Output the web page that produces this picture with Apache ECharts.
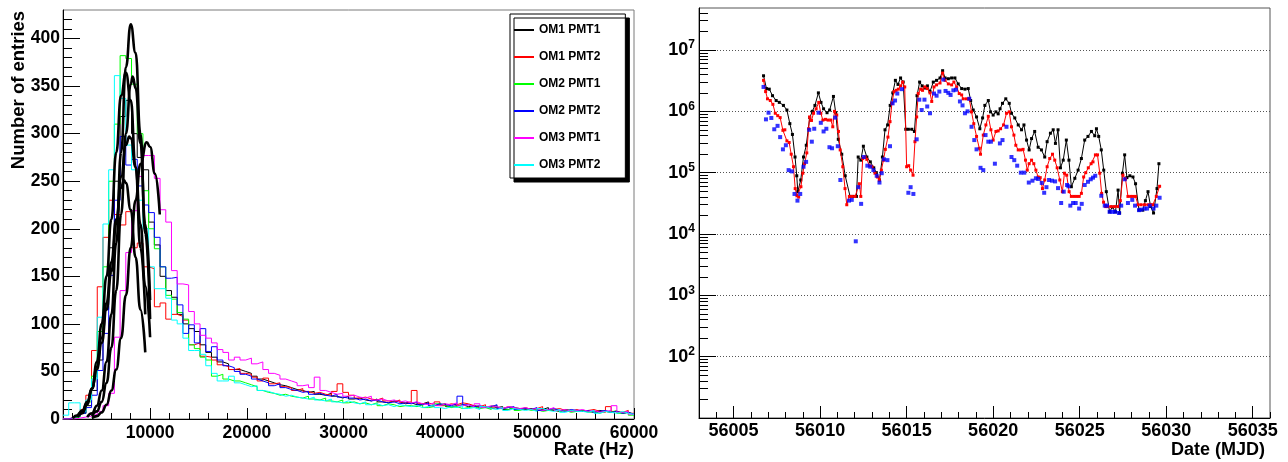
<!DOCTYPE html>
<html><head><meta charset="utf-8">
<script src="https://cdn.jsdelivr.net/npm/echarts@6/dist/echarts.min.js"></script>
<style>html,body{margin:0;padding:0;background:#fff}#c{width:1288px;height:462px}</style>
</head><body><div id="c"></div><script>
// ---------- left panel: rate histograms ----------
const binStart = 1000, binWidth = 590;
const histNames = ['OM1 PMT1','OM1 PMT2','OM2 PMT1','OM2 PMT2','OM3 PMT1','OM3 PMT2'];
const histColors = ['#000000','#ff0000','#00ff00','#0000ff','#ff00ff','#00ffff'];
const om1pmt1 = [0,1,3,6,14,30,62,115,180,250,318,335,300,275,262,207,183,150,135,128,110,100,95,92,78,70,65,60,58,52,52,50,48,45,42,40,38,36,35,33,31,30,28,29,26,25,27,24,22,24,21,22,20,19,21,18,17,19,18,16,17,15,16,18,14,15,16,13,14,15,13,14,12,13,11,12,13,10,12,11,10,11,9,10,12,9,8,10,9,8,9,8,7,9,8,7,8,6,7,5];
const om1pmt2 = [0,2,4,10,25,72,139,191,230,215,204,218,180,185,160,158,118,122,105,110,108,104,78,80,66,65,62,57,55,52,53,48,47,44,40,43,37,38,34,33,30,32,29,27,28,26,25,29,37,28,25,22,23,21,20,22,19,18,20,17,18,30,16,17,15,18,14,16,15,17,16,14,13,15,12,14,11,13,12,10,12,10,11,13,9,10,11,9,8,10,8,9,10,8,7,13,8,7,9,6];
const om2pmt1 = [0,1,2,6,18,45,92,160,250,310,382,379,352,300,240,200,179,160,130,126,112,105,78,74,65,62,45,47,42,40,40,38,36,34,30,28,27,25,26,24,23,22,24,21,20,22,19,18,20,17,18,16,17,15,17,14,16,15,13,14,14,13,15,12,13,16,14,12,13,11,12,13,11,12,10,14,11,10,12,9,11,9,10,8,9,10,8,9,7,8,9,7,8,6,8,7,9,6,7,4];
const om2pmt2 = [0,2,3,6,12,25,51,90,151,230,297,267,273,245,225,217,191,160,148,149,120,90,99,80,95,71,76,62,56,54,50,47,45,42,40,38,35,37,33,31,30,28,29,26,27,25,24,26,23,22,22,20,21,19,20,18,17,18,16,17,16,18,15,17,14,16,15,14,16,24,15,13,14,12,13,15,11,12,13,10,11,10,12,9,10,11,9,8,10,9,8,9,7,8,9,7,8,6,7,5];
const om3pmt1 = [0,0,1,2,3,5,8,14,27,86,135,175,219,255,277,277,253,220,207,156,142,141,113,100,88,85,80,73,70,62,65,62,64,58,60,52,48,46,42,40,38,35,36,33,44,30,28,26,27,24,25,23,22,24,20,21,19,20,18,19,17,18,16,15,17,14,16,15,17,14,15,13,16,12,14,13,11,13,12,11,12,10,11,9,10,12,9,10,8,9,10,8,9,7,8,9,14,7,8,5];
const om3pmt2 = [4,17,17,8,20,42,107,205,262,361,337,288,262,230,200,160,137,137,127,104,100,85,72,72,68,56,48,40,40,45,38,36,34,35,30,29,27,26,24,25,23,22,21,23,20,19,21,18,17,19,17,16,18,15,16,14,15,13,15,14,13,14,12,13,15,12,11,13,12,14,11,12,10,13,11,10,12,9,11,10,9,10,8,11,9,8,10,7,9,8,8,7,9,6,8,7,6,8,6,5];
const histCounts = [om1pmt1, om1pmt2, om2pmt1, om2pmt2, om3pmt1, om3pmt2];

// fitted peak curves (black), [rate, entries]
const fitA = [[3500,2],[4000,6],[4500,14],[5000,30],[5500,60],[6000,110],[6500,185],[7000,280],[7500,370],[8000,415],[8500,385],[9000,300],[9500,195],[10000,105]];
const fitB = [[2500,2],[3000,6],[3500,15],[4000,32],[4500,60],[5000,100],[5500,150],[6000,210],[6500,280],[7000,340],[7500,364],[8000,335],[8500,265],[9000,180],[9500,110]];
const fitC = [[4000,3],[4500,8],[5000,18],[5500,38],[6000,75],[6500,135],[7000,215],[7500,300],[8000,352],[8200,360],[8500,348],[9000,290],[9500,205],[10000,125]];
const fitD = [[2000,1],[2500,4],[3000,9],[3500,18],[4000,32],[4500,52],[5000,80],[5500,115],[6000,155],[6500,205],[7000,255],[7500,288],[7850,297],[8000,295],[8500,265],[9000,205],[9500,140],[10000,86]];
const fitE = [[4000,1],[4500,3],[5000,7],[5500,15],[6000,30],[6500,52],[7000,85],[7500,130],[8000,180],[8500,230],[9000,268],[9650,291],[10000,286],[10500,258],[11000,215]];
const fitF = [[2500,3],[3000,8],[3500,17],[4000,32],[4500,55],[5000,85],[5500,122],[6000,165],[6500,210],[7000,243],[7300,251],[7500,248],[8000,220],[8500,170],[9000,115],[9500,70]];
const fits = [fitA, fitB, fitC, fitD, fitE, fitF];

const rateMajor = [10000,20000,30000,40000,50000,60000];
const rateMinor = [2000,4000,6000,8000,12000,14000,16000,18000,22000,24000,26000,28000,32000,34000,36000,38000,42000,44000,46000,48000,52000,54000,56000,58000];
const entriesMajor = [0,50,100,150,200,250,300,350,400];
const entriesMinor = [10,20,30,40,60,70,80,90,110,120,130,140,160,170,180,190,210,220,230,240,260,270,280,290,310,320,330,340,360,370,380,390,410,420];

// ---------- right panel: rate vs date ----------
const seriesBlack = [[56006.73,3.8e6],[56006.90,2.35e6],[56007.06,2.3e6],[56007.25,1.8e6],[56007.46,1.5e6],[56007.64,1.4e6],[56007.88,1.25e6],[56008.08,1.05e6],[56008.25,6.3e5],[56008.40,4.2e5],[56008.55,1.8e5],[56008.65,8.9e4],[56008.71,4.9e4],[56008.88,7.6e4],[56009.04,1.8e5],[56009.20,2.8e5],[56009.40,7.9e5],[56009.55,1.0e6],[56009.70,1.25e6],[56009.90,2.0e6],[56010.05,1.4e6],[56010.20,1.1e6],[56010.40,9.5e5],[56010.55,1.05e6],[56010.77,1.75e6],[56010.90,9.5e5],[56011.05,3.5e5],[56011.25,2.0e5],[56011.45,8.9e4],[56011.73,4.1e4],[56011.90,4.1e4],[56012.10,4.1e4],[56012.20,1.8e5],[56012.35,1.6e5],[56012.50,2.7e5],[56012.70,1.8e5],[56012.90,1.5e5],[56013.10,1.2e5],[56013.25,1.0e5],[56013.43,7.6e4],[56013.60,1.8e5],[56013.75,5.0e5],[56013.90,6.0e5],[56014.05,1.25e6],[56014.20,2.0e6],[56014.35,3.2e6],[56014.50,2.75e6],[56014.65,3.5e6],[56014.80,3.0e6],[56014.95,5.1e5],[56015.10,5.1e5],[56015.30,5.1e5],[56015.45,4.7e5],[56015.60,1.8e6],[56015.75,3.0e6],[56015.90,2.6e6],[56016.05,2.4e6],[56016.20,2.6e6],[56016.35,2.1e6],[56016.54,3.0e6],[56016.73,3.2e6],[56016.93,3.5e6],[56017.08,4.6e6],[56017.22,3.5e6],[56017.41,3.4e6],[56017.60,3.5e6],[56017.79,3.5e6],[56017.98,2.8e6],[56018.18,2.35e6],[56018.37,2.3e6],[56018.56,2.35e6],[56018.70,1.5e6],[56018.85,1.05e6],[56019.04,8.1e5],[56019.23,5.2e5],[56019.39,7.8e5],[56019.52,1.25e6],[56019.72,1.5e6],[56019.85,9.8e5],[56020.00,8.7e5],[56020.16,9.8e5],[56020.29,9.1e5],[56020.40,1.1e6],[56020.54,1.35e6],[56020.73,1.6e6],[56020.93,1.35e6],[56021.06,9.3e5],[56021.25,7.8e5],[56021.45,6.0e5],[56021.64,5.0e5],[56021.78,6.0e5],[56021.93,3.4e5],[56022.08,2.35e5],[56022.22,3.6e5],[56022.40,4.7e5],[56022.60,2.6e5],[56022.79,2.35e5],[56022.98,1.8e5],[56023.12,3.2e5],[56023.31,4.4e5],[56023.47,5.0e5],[56023.60,3.0e5],[56023.75,5.0e5],[56023.89,1.2e5],[56024.05,1.6e5],[56024.23,3.4e5],[56024.38,1.6e5],[56024.52,5.9e4],[56024.72,8.1e4],[56024.91,1.1e5],[56025.10,1.7e5],[56025.29,3.4e5],[56025.48,3.9e5],[56025.68,4.7e5],[56025.87,4.0e5],[56025.97,5.2e5],[56026.10,3.9e5],[56026.25,2.35e5],[56026.39,1.1e5],[56026.54,4.9e4],[56026.73,2.3e4],[56026.89,2.75e4],[56027.07,2.3e4],[56027.22,5.2e4],[56027.31,2.2e4],[56027.47,9.8e4],[56027.60,1.95e5],[56027.73,8.3e4],[56027.90,8.9e4],[56028.08,8.5e4],[56028.23,6.6e4],[56028.43,2.45e4],[56028.65,2.45e4],[56028.80,3.5e4],[56028.95,4.9e4],[56029.10,2.8e4],[56029.27,2.2e4],[56029.47,5.5e4],[56029.58,1.4e5]];
const seriesRed = [[56006.73,3.2e6],[56006.85,2.1e6],[56006.96,1.6e6],[56007.12,1.5e6],[56007.27,1.3e6],[56007.41,9.3e5],[56007.55,8.5e5],[56007.69,7.9e5],[56007.85,4.9e5],[56007.96,5.0e5],[56008.08,3.3e5],[56008.21,3.1e5],[56008.33,2.0e5],[56008.46,1.25e5],[56008.56,5.5e4],[56008.66,4.2e4],[56008.76,4.0e4],[56008.89,5.9e4],[56009.00,9.8e4],[56009.10,1.4e5],[56009.23,2.1e5],[56009.33,5.2e5],[56009.39,8.1e5],[56009.50,7.1e5],[56009.62,9.3e5],[56009.77,1.1e6],[56009.92,1.4e6],[56010.04,9.3e5],[56010.16,7.2e5],[56010.31,7.4e5],[56010.46,7.2e5],[56010.62,7.2e5],[56010.73,5.6e5],[56010.83,1.0e6],[56010.96,8.7e5],[56011.06,4.7e5],[56011.16,2.35e5],[56011.31,1.25e5],[56011.44,5.5e4],[56011.54,3.0e4],[56011.69,4.1e4],[56011.85,4.1e4],[56012.02,4.1e4],[56012.27,6.6e4],[56012.35,4.1e4],[56012.46,1.7e5],[56012.60,1.8e5],[56012.70,1.65e5],[56012.85,1.3e5],[56013.00,1.25e5],[56013.17,9.8e4],[56013.31,8.5e4],[56013.42,7.6e4],[56013.54,1.1e5],[56013.66,1.6e5],[56013.77,2.4e5],[56013.92,3.8e5],[56014.04,6.8e5],[56014.15,1.35e6],[56014.27,2.1e6],[56014.39,2.2e6],[56014.52,2.3e6],[56014.65,2.6e6],[56014.77,3.0e6],[56014.89,2.5e6],[56015.00,1.25e5],[56015.12,1.3e5],[56015.23,1.1e5],[56015.37,9.1e4],[56015.48,3.2e5],[56015.58,8.1e5],[56015.67,1.95e6],[56015.81,2.3e6],[56015.92,2.2e6],[56016.06,2.5e6],[56016.19,2.35e6],[56016.35,2.0e6],[56016.45,1.45e6],[56016.58,2.5e6],[56016.73,2.7e6],[56016.93,2.9e6],[56017.08,4.2e6],[56017.22,3.2e6],[56017.41,2.8e6],[56017.60,2.7e6],[56017.73,3.0e6],[56017.89,2.5e6],[56018.04,1.95e6],[56018.18,1.85e6],[56018.27,1.6e6],[56018.46,1.6e6],[56018.62,1.6e6],[56018.75,9.8e5],[56018.88,6.3e5],[56019.04,3.9e5],[56019.20,2.5e5],[56019.27,2.0e5],[56019.43,4.1e5],[56019.58,6.0e5],[56019.72,8.3e5],[56019.87,5.0e5],[56020.00,3.4e5],[56020.16,4.7e5],[56020.29,4.8e5],[56020.43,5.2e5],[56020.60,6.0e5],[56020.77,9.3e5],[56020.93,9.8e5],[56021.06,5.6e5],[56021.20,4.1e5],[56021.31,2.8e5],[56021.45,2.35e5],[56021.60,2.35e5],[56021.73,2.4e5],[56021.87,1.6e5],[56021.97,1.1e5],[56022.08,1.4e5],[56022.22,1.6e5],[56022.35,1.4e5],[56022.47,1.1e5],[56022.60,8.5e4],[56022.72,8.3e4],[56022.85,5.5e4],[56022.98,7.6e4],[56023.12,1.25e5],[56023.27,1.7e5],[56023.43,2.0e5],[56023.56,1.6e5],[56023.70,1.2e5],[56023.85,7.6e4],[56024.00,4.9e4],[56024.12,9.8e4],[56024.25,9.1e4],[56024.39,4.9e4],[56024.52,4.1e4],[56024.67,4.1e4],[56024.82,4.1e4],[56024.97,4.1e4],[56025.10,4.6e4],[56025.23,8.5e4],[56025.35,1.0e5],[56025.50,1.2e5],[56025.66,1.4e5],[56025.77,1.5e5],[56025.91,1.95e5],[56026.03,1.95e5],[56026.16,9.8e4],[56026.27,4.6e4],[56026.38,3.3e4],[56026.50,2.8e4],[56026.63,2.8e4],[56026.82,2.8e4],[56027.02,2.8e4],[56027.22,2.8e4],[56027.35,3.5e4],[56027.50,9.1e4],[56027.65,7.9e4],[56027.79,4.1e4],[56027.95,4.1e4],[56028.08,4.1e4],[56028.23,4.1e4],[56028.37,3.0e4],[56028.55,3.0e4],[56028.75,3.0e4],[56028.95,3.0e4],[56029.10,3.0e4],[56029.23,3.0e4],[56029.43,4.1e4],[56029.62,6.0e4]];
const seriesBlue = [[56006.73,2.5e6],[56006.87,7.4e5],[56007.02,9.5e5],[56007.18,7.8e5],[56007.35,5.1e5],[56007.54,5.8e5],[56007.69,3.8e5],[56007.85,2.4e5],[56008.02,2.8e5],[56008.18,1.1e5],[56008.37,1.05e5],[56008.52,4.5e4],[56008.69,3.5e4],[56008.85,4.5e4],[56009.04,1.25e5],[56009.19,1.5e5],[56009.37,5.0e5],[56009.52,3.2e5],[56009.66,5.2e5],[56009.91,9.5e5],[56010.04,6.5e5],[56010.20,4.7e5],[56010.36,5.2e5],[56010.54,2.6e5],[56010.69,2.5e5],[56010.87,7.9e5],[56011.02,2.7e5],[56011.17,7.6e4],[56011.67,3.5e4],[56011.83,3.6e4],[56012.06,7.6e3],[56012.21,5.8e4],[56012.37,3.1e4],[56012.52,1.8e5],[56012.73,1.3e5],[56012.90,1.25e5],[56013.08,1.1e5],[56013.27,8.9e4],[56013.43,6.9e4],[56013.56,9.8e4],[56013.69,1.65e5],[56013.89,1.6e5],[56014.04,2.7e5],[56014.19,1.35e6],[56014.33,1.5e6],[56014.46,1.95e6],[56014.73,2.3e6],[56015.10,4.7e4],[56015.23,5.8e4],[56015.39,4.5e4],[56015.58,3.5e5],[56015.73,1.55e6],[56015.87,1.05e6],[56016.03,1.55e6],[56016.19,1.2e6],[56016.35,9.3e5],[56016.58,1.95e6],[56016.73,1.8e6],[56016.89,2.1e6],[56017.12,3.3e6],[56017.25,2.15e6],[56017.41,2.0e6],[56017.54,1.85e6],[56017.70,2.2e6],[56017.85,2.25e6],[56018.08,1.45e6],[56018.23,1.25e6],[56018.37,9.3e5],[56018.52,1.0e6],[56018.62,1.6e6],[56018.75,5.6e5],[56018.91,3.4e5],[56019.04,2.4e5],[56019.27,1.2e5],[56019.43,1.1e5],[56019.56,4.1e5],[56019.72,3.2e5],[56019.87,3.2e5],[56020.10,1.4e5],[56020.39,3.0e5],[56020.54,3.4e5],[56020.77,5.6e5],[56021.06,1.8e5],[56021.22,1.6e5],[56021.39,1.3e5],[56021.60,1.0e5],[56021.80,1.0e5],[56022.06,6.9e4],[56022.27,7.4e4],[56022.47,8.1e4],[56022.60,7.9e4],[56022.81,6.8e4],[56022.95,4.7e4],[56023.08,5.8e4],[56023.23,7.6e4],[56023.40,7.4e4],[56023.58,7.2e4],[56023.75,5.6e4],[56023.93,3.2e4],[56024.08,4.9e4],[56024.27,6.3e4],[56024.35,6.0e4],[56024.46,2.9e4],[56024.62,3.2e4],[56024.77,3.2e4],[56024.97,2.6e4],[56025.12,3.1e4],[56025.29,6.3e4],[56025.48,7.1e4],[56025.64,7.8e4],[56025.77,8.3e4],[56025.90,8.9e4],[56026.25,4.2e4],[56026.45,2.9e4],[56026.58,2.9e4],[56026.73,2.3e4],[56026.89,2.3e4],[56027.04,2.3e4],[56027.27,2.2e4],[56027.40,2.9e4],[56027.60,7.8e4],[56027.79,3.2e4],[56028.04,3.6e4],[56028.20,2.9e4],[56028.43,2.45e4],[56028.56,2.5e4],[56028.75,2.6e4],[56028.89,2.6e4],[56029.05,2.9e4],[56029.27,2.6e4],[56029.43,2.9e4],[56029.62,3.9e4]];

const dateMajor = [56005,56010,56015,56020,56025,56030,56035];
const dateMinor = [56004,56006,56007,56008,56009,56011,56012,56013,56014,56016,56017,56018,56019,56021,56022,56023,56024,56026,56027,56028,56029,56031,56032,56033,56034,56036];
const rateLogMajor = [1e2,1e3,1e4,1e5,1e6,1e7];
const rateLogMinor = [];
[1e1,1e2,1e3,1e4,1e5,1e6,1e7].forEach(d => { for (let k = 2; k <= 9; k++) rateLogMinor.push(k * d); });

// ---------- chart ----------
const FONT = '"Liberation Sans", Arial, Helvetica, sans-serif';
const chart = echarts.init(document.getElementById('c'), null, {renderer: 'canvas'});
const plain = v => String(Math.round(v));
const lbl = (size, margin) => ({fontSize: size, fontWeight: 'bold', color: '#000', fontFamily: FONT, margin: margin, formatter: plain});
const series = [];
histCounts.forEach((counts, h) => {
  const data = counts.map((c, i) => [binStart + binWidth * i, c]);
  data.push([binStart + binWidth * counts.length, counts[counts.length - 1]]);
  series.push({name: histNames[h], type: 'line', step: 'end', xAxisIndex: 0, yAxisIndex: 0, data: data,
    symbol: 'none', showSymbol: false, color: histColors[h], lineStyle: {width: 1, color: histColors[h]}, z: 2});
});
fits.forEach(f => series.push({type: 'line', xAxisIndex: 0, yAxisIndex: 0, data: f, smooth: 0.5, smoothMonotone: 'x',
  symbol: 'none', lineStyle: {width: 2.6, color: '#000'}, z: 4}));
series.push({type: 'line', xAxisIndex: 2, yAxisIndex: 2, data: seriesBlack, symbol: 'rect', symbolSize: 3,
  lineStyle: {width: 1, color: '#000'}, itemStyle: {color: '#000'}, z: 3});
series.push({type: 'line', xAxisIndex: 2, yAxisIndex: 2, data: seriesRed, symbol: 'rect', symbolSize: 3,
  lineStyle: {width: 1, color: '#ff0000'}, itemStyle: {color: '#ff0000'}, z: 4});
series.push({type: 'scatter', xAxisIndex: 2, yAxisIndex: 2, data: seriesBlue, symbol: 'rect', symbolSize: 4,
  itemStyle: {color: '#0000ff'}, z: 5});

const noLine = {show: false};
const option = {
  animation: false,
  backgroundColor: '#fff',
  grid: [
    {left: 63, top: 10, width: 571, height: 409, show: true, borderColor: '#7a7a7a', borderWidth: 1},
    {left: 699, top: 8, width: 571, height: 410, show: true, borderColor: '#555', borderWidth: 1}
  ],
  xAxis: [
    {gridIndex: 0, type: 'value', min: 1000, max: 60000, position: 'bottom',
      axisLine: {onZero: false, lineStyle: {color: '#000', width: 1}},
      axisTick: {inside: true, length: 11, customValues: rateMajor, lineStyle: {color: '#000'}},
      axisLabel: Object.assign({customValues: rateMajor}, lbl(17.5, 5)), splitLine: noLine},
    {gridIndex: 0, type: 'value', min: 1000, max: 60000, position: 'bottom',
      axisLine: noLine, axisTick: {inside: true, length: 6, customValues: rateMinor, lineStyle: {color: '#000'}},
      axisLabel: {show: false}, splitLine: noLine},
    {gridIndex: 1, type: 'value', min: 56003, max: 56036, position: 'bottom',
      axisLine: {onZero: false, lineStyle: {color: '#000', width: 1}},
      axisTick: {inside: true, length: 12, customValues: dateMajor, lineStyle: {color: '#000'}},
      axisLabel: Object.assign({customValues: dateMajor}, lbl(18, 4)), splitLine: noLine},
    {gridIndex: 1, type: 'value', min: 56003, max: 56036, position: 'bottom',
      axisLine: noLine, axisTick: {inside: true, length: 6, customValues: dateMinor, lineStyle: {color: '#000'}},
      axisLabel: {show: false}, splitLine: noLine}
  ],
  yAxis: [
    {gridIndex: 0, type: 'value', min: 0, max: 430, position: 'left',
      axisLine: {show: true, onZero: false, lineStyle: {color: '#000', width: 1}},
      axisTick: {show: true, inside: true, length: 17, customValues: entriesMajor, lineStyle: {color: '#000'}},
      axisLabel: Object.assign({customValues: entriesMajor}, lbl(17.5, 3)), splitLine: noLine},
    {gridIndex: 0, type: 'value', min: 0, max: 430, position: 'left',
      axisLine: noLine, axisTick: {show: true, inside: true, length: 9, customValues: entriesMinor, lineStyle: {color: '#000'}},
      axisLabel: {show: false}, splitLine: noLine},
    {gridIndex: 1, type: 'log', logBase: 10, min: 10, max: 4.84e7, position: 'left',
      axisLine: {show: true, onZero: false, lineStyle: {color: '#000', width: 1}},
      axisTick: {show: true, inside: true, length: 17, customValues: rateLogMajor, lineStyle: {color: '#000'}},
      axisLabel: {customValues: rateLogMajor, margin: 4, color: '#000',
        formatter: v => '{b|10}{s|' + Math.round(Math.log10(v)) + '}',
        rich: {b: {fontSize: 18, fontWeight: 'bold', fontFamily: FONT, color: '#000'},
               s: {fontSize: 12, fontWeight: 'bold', fontFamily: FONT, color: '#000', padding: [0, 0, 10, 0]}}},
      splitLine: {show: true, lineStyle: {color: '#555', width: 1, type: [1, 2]}}},
    {gridIndex: 1, type: 'log', logBase: 10, min: 10, max: 4.84e7, position: 'left',
      axisLine: noLine, axisTick: {show: true, inside: true, length: 9, customValues: rateLogMinor, lineStyle: {color: '#000'}},
      axisLabel: {show: false}, splitLine: noLine}
  ],
  legend: {
    data: histNames, orient: 'vertical', left: 510, top: 14, padding: [9, 25, 6, 4],
    icon: 'rect', itemWidth: 20, itemHeight: 2, itemGap: 13, selectedMode: false,
    backgroundColor: '#fff', borderColor: '#000', borderWidth: 1, borderRadius: 0,
    shadowColor: '#000', shadowBlur: 0, shadowOffsetX: 4, shadowOffsetY: 4,
    textStyle: {fontSize: 12, lineHeight: 14, fontWeight: 'bold', color: '#000', fontFamily: FONT}
  },
  graphic: [
    {type: 'text', x: 18.5, y: 90, rotation: Math.PI / 2,
      style: {text: 'Number of entries', fontSize: 18.5, fontWeight: 'bold', fontFamily: FONT, fill: '#000', align: 'center', verticalAlign: 'middle'}},
    {type: 'text', x: 634, y: 450,
      style: {text: 'Rate (Hz)', fontSize: 18.5, fontWeight: 'bold', fontFamily: FONT, fill: '#000', align: 'right', verticalAlign: 'middle'}},
    {type: 'text', x: 1265, y: 450,
      style: {text: 'Date (MJD)', fontSize: 18, fontWeight: 'bold', fontFamily: FONT, fill: '#000', align: 'right', verticalAlign: 'middle'}}
  ],
  series: series
};
chart.setOption(option);
</script></body></html>
